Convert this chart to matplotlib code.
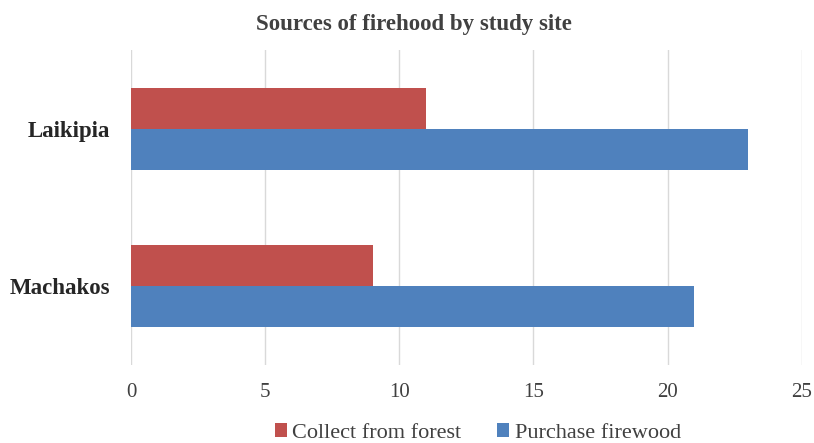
import numpy as np
import matplotlib.pyplot as plt

plt.rcParams['font.family'] = ['Liberation Serif', 'DejaVu Serif']

# Data
sites = ['Machakos', 'Laikipia']
collect = [9, 11]
purchase = [21, 23]
series_names = ['Collect from forest', 'Purchase firewood']

red = '#C0504D'
blue = '#4F81BD'

fig = plt.figure(figsize=(8.14, 4.43), dpi=100)
ax = fig.add_axes([0.161, 0.176, 0.824, 0.711])

y = np.arange(len(sites))
h = 0.26
ax.barh(y + h / 2, collect, height=h, color=red, label=series_names[0])
ax.barh(y - h / 2, purchase, height=h, color=blue, label=series_names[1])

ax.set_xlim(0, 25)
ax.set_ylim(-0.5, 1.5)
ax.set_xticks(range(0, 26, 5))
ax.set_yticks(y)
ax.set_yticklabels(sites, fontsize=16.5, fontweight='bold', color='#262626')
ax.tick_params(axis='x', labelsize=15, labelcolor='#404040', length=0, pad=13)
ax.tick_params(axis='y', length=0, pad=15)
ax.grid(axis='x', color='#d9d9d9', linewidth=1)
ax.set_axisbelow(True)
for s in ax.spines.values():
    s.set_visible(False)

fig.text(0.509, 0.945, 'Sources of firehood by study site', fontsize=16.5,
         fontweight='bold', color='#404040', ha='center', va='center')

fig.legend(loc='center', bbox_to_anchor=(0.587, 0.022), ncol=2, frameon=False,
           fontsize=16, handlelength=0.55, handleheight=0.55, handletextpad=0.25,
           columnspacing=1.6, labelcolor='#404040')

fig.savefig('out.png', dpi=100)
